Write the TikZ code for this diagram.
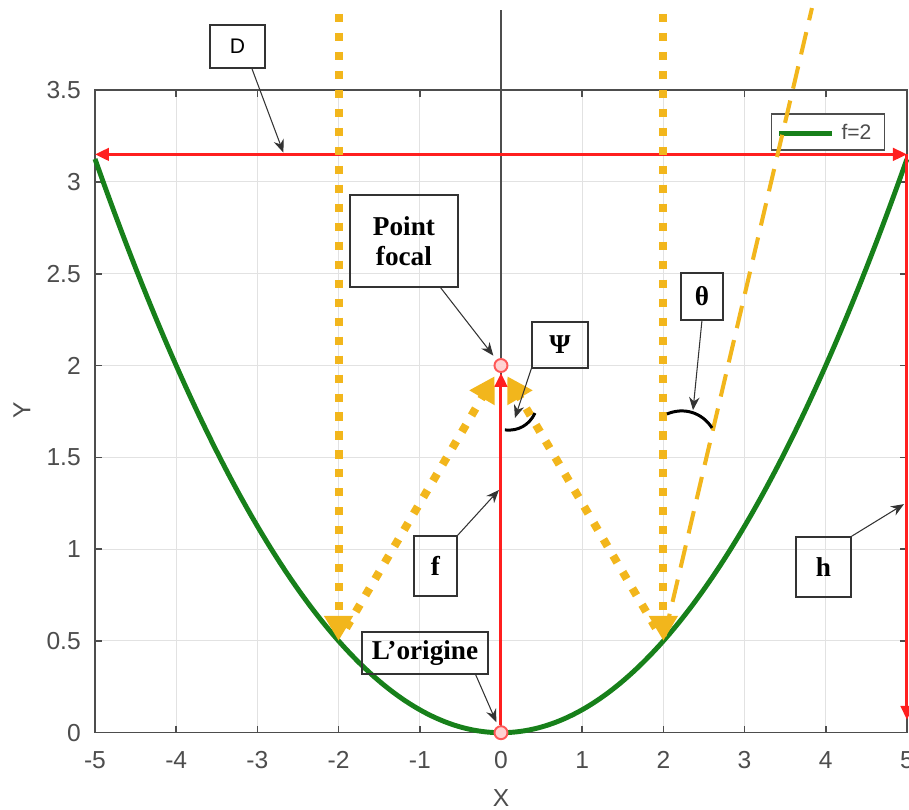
\documentclass[tikz,border=0pt]{standalone}
\usepackage{fontspec}
\setmainfont{Liberation Serif}
\setsansfont{Liberation Sans}
\usetikzlibrary{arrows.meta, positioning}
\definecolor{curveGreen}{HTML}{17801A}
\definecolor{rayYellow}{HTML}{F2B61C}
\definecolor{dimRed}{HTML}{FF1F1F}
\definecolor{axisGray}{HTML}{4D4D4D}
\definecolor{gridGray}{HTML}{E2E2E2}
\definecolor{boxGray}{HTML}{333333}
\tikzset{
  calloutbox/.style={draw=boxGray, line width=0.8pt, align=center, inner sep=2pt,
    font=\bfseries\fontsize{15.5}{17}\selectfont},
  calloutarr/.style={-{Stealth[length=2.6mm, width=2.1mm]}, boxGray, line width=0.6pt},
  dimarr/.style={dimRed, line width=1.7pt},
  dimtip/.style={-{Triangle[length=2.8mm, width=2.5mm]}},
  raydot/.style={rayYellow, line width=4.6pt, dash pattern=on 4.6pt off 6.2pt},
  raytip/.style={-{Triangle[length=5mm, width=5.5mm]}},
  ticklabel/.style={font=\sffamily\fontsize{14}{14}\selectfont, text=axisGray, inner sep=1pt},
  pointmark/.style={circle, draw=dimRed!75, fill=dimRed!20, line width=1.1pt, minimum size=0.26cm, inner sep=0pt},
  anglemark/.style={black, line width=1.7pt},
}
\begin{document}
\begin{tikzpicture}[x=1.624cm, y=3.672cm]
  \useasboundingbox (-6.17,-0.4156) rectangle (5.025,3.991);
  \foreach \gx in {-5,...,5} \draw[gridGray, line width=0.6pt] (\gx,0) -- (\gx,3.5);
  \foreach \gy in {0,0.5,1,1.5,2,2.5,3,3.5} \draw[gridGray, line width=0.6pt] (-5,\gy) -- (5,\gy);
  \draw[axisGray, line width=0.9pt] (-5,0) rectangle (5,3.5);
  \foreach \gx [count=\i] in {-5,...,5} {
    \draw[axisGray, line width=0.9pt] (\gx,0) -- ++(0pt,0.14cm) (\gx,3.5) -- ++(0pt,-0.14cm);
    \node[ticklabel] (xt\i) at (\gx,-0.15) {\gx};
  }
  \foreach \gy [count=\i] in {0,0.5,1,1.5,2,2.5,3,3.5} {
    \draw[axisGray, line width=0.9pt] (-5,\gy) -- ++(0.14cm,0pt) (5,\gy) -- ++(-0.14cm,0pt);
    \node[ticklabel, anchor=east] (yt\i) at (-5.15,\gy) {\gy};
  }
  \node[ticklabel] (xlab) at (0,-0.355) {X};
  \node[ticklabel, rotate=90] (ylab) at (-5.9,1.757) {Y};

  \coordinate (axtop) at (0,3.936);
  \coordinate (PL) at (-2,0.5);
  \coordinate (PR) at (2,0.5);
  \coordinate (TL) at (-2,3.915);
  \coordinate (TR) at (2,3.915);
  \coordinate (TD) at (3.83,3.947);
  \coordinate (Dl) at (-5,3.15);
  \coordinate (Dr) at (5,3.15);
  \coordinate (Hb) at (5,0.07);

  \draw[axisGray, line width=0.9pt] (0,0) -- (axtop);
  \draw[curveGreen, line width=2.8pt, domain=-5:5, samples=80, smooth] plot (\x, {\x*\x/8});

  \node[draw=axisGray, fill=white, line width=0.6pt, minimum width=2.26cm, minimum height=0.72cm] (leg) at (4.033,3.272) {};
  \draw[curveGreen, line width=2.8pt] ([xshift=0.16cm, yshift=-0.03cm]leg.west) -- ++(1.06cm,0pt);
  \node[ticklabel, font=\sffamily\fontsize{12}{12}\selectfont, anchor=west] (legtxt) at ([xshift=1.36cm]leg.west) {f=2};

  \draw[dimarr, {Triangle[length=2.8mm, width=2.5mm]}-{Triangle[length=2.8mm, width=2.5mm]}] (Dl) -- (Dr);
  \draw[dimarr, dimtip] (Dr) -- (Hb);

  \node[pointmark] (O) at (0,0) {};
  \node[pointmark] (F) at (0,2) {};

  \draw[raydot, raytip] (TL) -- (PL);
  \draw[raydot, raytip] (TR) -- (PR);
  \draw[raydot, raytip, shorten <=0.3cm, shorten >=0.1cm] (PL) -- (F);
  \draw[raydot, raytip, shorten <=0.3cm, shorten >=0.1cm] (PR) -- (F);
  \draw[rayYellow, line width=2.3pt, dash pattern=on 13pt off 7pt, shorten <=0.1cm] (PR) -- (TD);
  \draw[dimarr, dimtip] (O) -- (F);

  \coordinate (psiA) at (0.049,1.649);
  \coordinate (psiB) at (0.419,1.741);
  \coordinate (thA) at (2.044,1.736);
  \coordinate (thB) at (2.599,1.660);
  \draw[anglemark] (psiA) to[bend right=35] (psiB);
  \draw[anglemark] (thA) to[bend left=40] (thB);

  \node[calloutbox, font=\sffamily\fontsize{12}{12}\selectfont, minimum width=1.1cm, minimum height=0.86cm] (dbox) at (-3.245,3.737) {D};
  \node[calloutbox, minimum width=2.16cm, minimum height=1.84cm] (pfbox) at (-1.195,2.678) {Point\\focal};
  \node[calloutbox, minimum width=1.12cm, minimum height=0.92cm] (psibox) at (0.727,2.112) {Ψ};
  \node[calloutbox, minimum width=0.84cm, minimum height=0.94cm] (thbox) at (2.475,2.376) {θ};
  \node[calloutbox, minimum width=0.86cm, minimum height=1.2cm] (fbox) at (-0.807,0.908) {f};
  \node[calloutbox, minimum width=1.1cm, minimum height=1.2cm] (hbox) at (3.972,0.903) {h};
  \node[calloutbox, minimum width=2.52cm, minimum height=0.84cm] (obox) at (-0.936,0.434) {L’origine};

  \coordinate (dTip) at (-2.68,3.16);
  \coordinate (psiTip) at (0.172,1.714);
  \coordinate (thTip) at (2.365,1.757);
  \coordinate (fTip) at (-0.025,1.322);
  \coordinate (hTip) at (4.963,1.245);
  \draw[calloutarr] ([xshift=0.29cm]dbox.south) -- (dTip);
  \draw[calloutarr, shorten >=0.1cm] ([xshift=-0.36cm]pfbox.south east) -- (F);
  \draw[calloutarr] (psibox.south west) -- (psiTip);
  \draw[calloutarr] (thbox.south) -- (thTip);
  \draw[calloutarr] (fbox.north east) -- (fTip);
  \draw[calloutarr] (hbox.north east) -- (hTip);
  \draw[calloutarr, shorten >=0.08cm] ([xshift=-0.26cm]obox.south east) -- (O);
\end{tikzpicture}
\end{document}
